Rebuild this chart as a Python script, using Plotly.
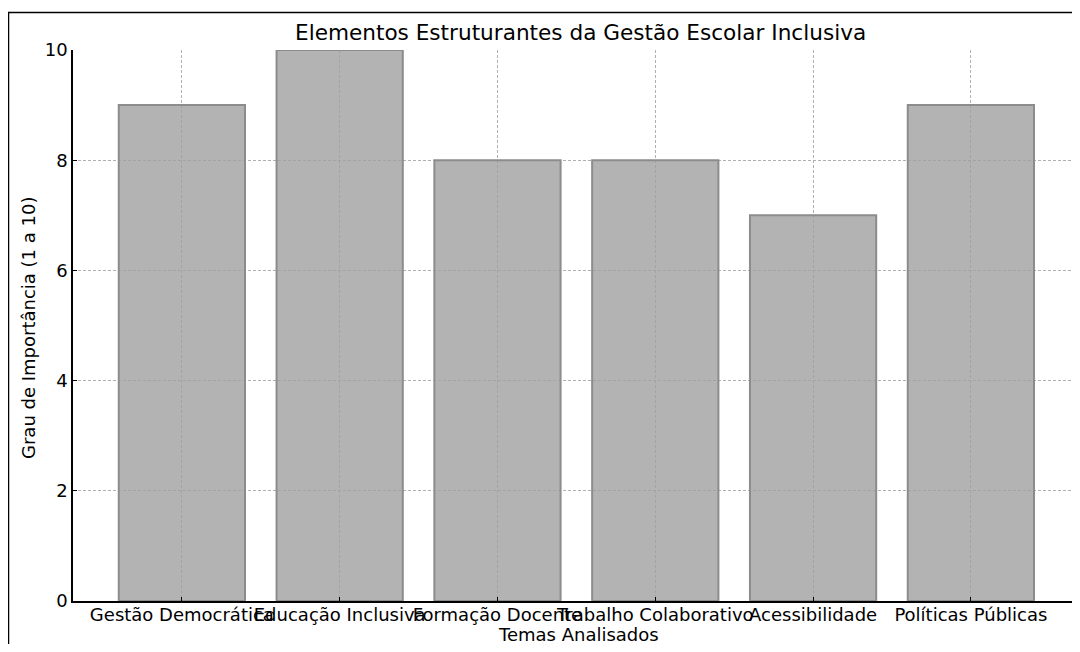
import plotly.graph_objects as go

categories = ["Gestão Democrática", "Educação Inclusiva", "Formação Docente",
              "Trabalho Colaborativo", "Acessibilidade", "Políticas Públicas"]
values = [9, 10, 8, 8, 7, 9]
y_ticks = [0, 2, 4, 6, 8, 10]

title_text = "Elementos Estruturantes da Gestão Escolar Inclusiva"
x_title = "Temas Analisados"
y_title = "Grau de Importância (1 a 10)"

# page body has an 8px margin; the figure is placed at (8, 8) on screen
OFF = 8
W, H = 1064, 636
# target plot area on screen: x 73..1072, y 50..601
SX0, SX1, SY0, SY1 = 73, 1072, 50, 601
L = SX0 - OFF
T = SY0 - OFF
pw = SX1 - SX0
ph = SY1 - SY0
R = W - L - pw
B = H - T - ph

PX_PER_CAT = 157.8
x_lo = -0.69
x_hi = x_lo + pw / PX_PER_CAT

def px_x(sx):
    return (sx - SX0) / pw

def px_y(sy):
    return (SY1 - sy) / ph

FONT = "DejaVu Sans"

fig = go.Figure()
fig.add_trace(go.Bar(
    x=list(range(len(categories))),
    y=values,
    width=0.8,
    marker=dict(color="rgba(160,160,160,0.8)",
                line=dict(color="#8c8c8c", width=2)),
    hoverinfo="skip",
))

fig.update_layout(
    width=W, height=H,
    margin=dict(l=L, r=R, t=T, b=B, pad=0, autoexpand=False),
    paper_bgcolor="white", plot_bgcolor="white",
    showlegend=False,
    font=dict(family=FONT, size=18, color="black"),
    xaxis=dict(
        range=[x_lo, x_hi],
        tickmode="array",
        tickvals=list(range(len(categories))),
        ticktext=categories,
        tickangle=0, automargin=False,
        ticklabelstandoff=-3,
        ticks="inside", ticklen=4, tickcolor="black", tickwidth=1,
        showline=True, linecolor="black", linewidth=1.5, mirror=False,
        showgrid=True, gridcolor="#b0b0b0", gridwidth=1, griddash="3px,2px",
        zeroline=False,
        tickfont=dict(family=FONT, size=18, color="black"),
    ),
    yaxis=dict(
        range=[0, 10],
        tickmode="array",
        tickvals=y_ticks,
        ticktext=[str(v) for v in y_ticks],
        automargin=False,
        ticks="inside", ticklen=4, tickcolor="black", tickwidth=1,
        showline=True, linecolor="black", linewidth=1.5, mirror=False,
        showgrid=True, gridcolor="#b0b0b0", gridwidth=1, griddash="3px,2px",
        zeroline=False,
        tickfont=dict(family=FONT, size=18, color="black"),
    ),
    shapes=[dict(
        type="rect", xref="paper", yref="paper",
        x0=px_x(8.5), x1=px_x(1100), y0=px_y(700), y1=px_y(12.5),
        line=dict(color="black", width=1.5), fillcolor="rgba(0,0,0,0)",
        layer="above",
    )],
    annotations=[
        dict(text=title_text, xref="paper", yref="paper",
             x=px_x(580), y=px_y(32), xanchor="center", yanchor="middle",
             showarrow=False, font=dict(family=FONT, size=21.6, color="black")),
        dict(text=x_title, xref="paper", yref="paper",
             x=px_x(578), y=px_y(634.5), xanchor="center", yanchor="middle",
             showarrow=False, font=dict(family=FONT, size=18, color="black")),
        dict(text=y_title, xref="paper", yref="paper",
             x=px_x(28), y=px_y(328), xanchor="center", yanchor="middle",
             textangle=-90,
             showarrow=False, font=dict(family=FONT, size=18, color="black")),
    ],
)

fig.write_html("out.html")
